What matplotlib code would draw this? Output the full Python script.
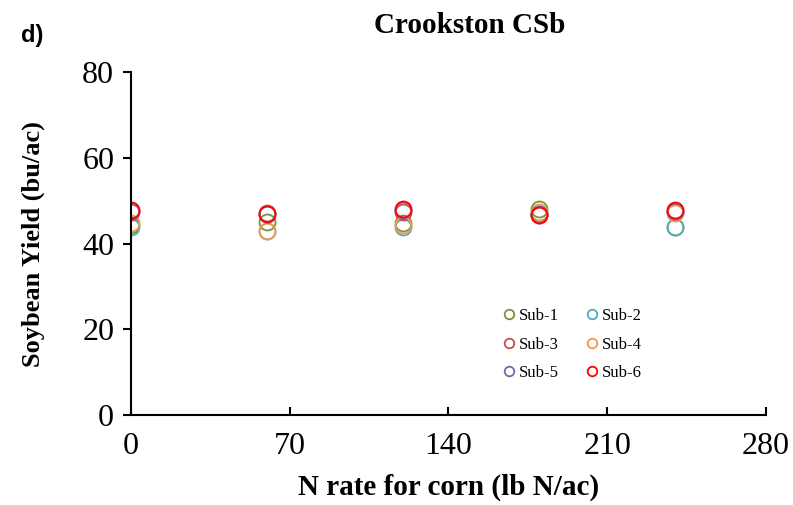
import matplotlib
matplotlib.use('Agg')
import matplotlib.pyplot as plt

# N rates and yields for each sub-plot
n_rate = [0, 60, 120, 180, 240]
sub_1 = [44.3, 45.0, 44.8, 48.2, 43.8]
sub_2 = [44.0, 43.0, 44.0, 47.0, 44.0]
sub_3 = [47.5, 47.2, 47.5, 46.8, 47.5]
sub_4 = [44.8, 43.0, 44.3, 47.3, 47.2]
sub_5 = [47.6, 47.0, 47.8, 46.9, 47.7]
sub_6 = [47.8, 46.9, 48.0, 46.7, 47.9]

series = [('Sub-1', sub_1, '#77933C'), ('Sub-2', sub_2, '#4BACC6'),
          ('Sub-3', sub_3, '#C0504D'), ('Sub-4', sub_4, '#F79646'),
          ('Sub-5', sub_5, '#8064A2'), ('Sub-6', sub_6, '#FF0000')]

plt.rcParams['font.family'] = 'Liberation Serif'

fig = plt.figure(figsize=(7.93, 5.05), dpi=100)
ax = fig.add_axes([0.165, 0.178, 0.801, 0.679])

handles = []
for name, vals, col in series:
    h, = ax.plot(n_rate, vals, linestyle='none', marker='o', markersize=11.5,
                 markerfacecolor='none', markeredgecolor=col, markeredgewidth=1.3,
                 label=name)
    handles.append(h)

ax.set_xlim(0, 280)
ax.set_ylim(0, 80)
ax.set_xticks([0, 70, 140, 210, 280])
ax.set_yticks([0, 20, 40, 60, 80])
ax.tick_params(axis='x', direction='in', length=6, width=1.5, labelsize=23, pad=12)
ax.tick_params(axis='y', direction='out', length=6, width=1.5, labelsize=23, pad=6)
for side in ['top', 'right']:
    ax.spines[side].set_visible(False)
for side in ['left', 'bottom']:
    ax.spines[side].set_linewidth(1.5)

ax.set_xlabel('N rate for corn (lb N/ac)', fontsize=21, fontweight='bold')
ax.xaxis.set_label_coords(0.5, -0.17)
ax.set_ylabel('Soybean Yield (bu/ac)', fontsize=19, fontweight='bold')
ax.yaxis.set_label_coords(-0.135, 0.5)

fig.text(0.592, 0.95, 'Crookston CSb', fontsize=21, fontweight='bold',
         ha='center', va='center')
fig.text(0.027, 0.93, 'd)', fontsize=17, fontweight='bold',
         family='Liberation Sans', ha='left', va='center')

# two columns filled row by row
order = [0, 2, 4, 1, 3, 5]
ax.legend([handles[i] for i in order], [series[i][0] for i in order],
          ncol=2, frameon=False, loc='center', bbox_to_anchor=(0.693, 0.205),
          fontsize=12, markerscale=0.6, handletextpad=0.1, columnspacing=1.5,
          labelspacing=0.75, handlelength=1.0)

fig.savefig('out.png', dpi=100)
